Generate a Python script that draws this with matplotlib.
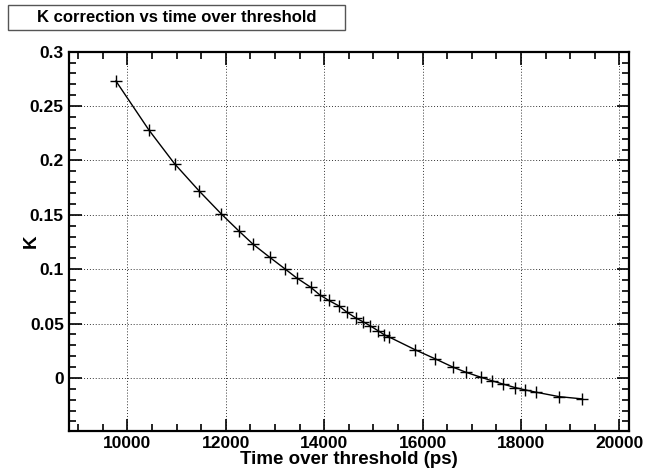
import numpy as np
import matplotlib.pyplot as plt
from matplotlib.ticker import MultipleLocator
from matplotlib.patches import Rectangle

plt.rcParams['font.family'] = ['Liberation Sans', 'DejaVu Sans']
plt.rcParams['font.weight'] = 'bold'

# time over threshold (ps) and K correction
tot = [9767, 10436, 10957, 11456, 11903, 12268, 12552, 12890, 13195, 13438,
       13722, 13905, 14093, 14296, 14458, 14649, 14783, 14933, 15087, 15223,
       15325, 15852, 16258, 16623, 16880, 17185, 17400, 17623, 17880, 18083,
       18312, 18773, 19246]
kcorr = [0.273, 0.228, 0.197, 0.172, 0.151, 0.135, 0.123, 0.111, 0.1005, 0.092,
         0.0835, 0.0765, 0.0712, 0.0663, 0.0605, 0.0549, 0.0518, 0.0479, 0.0436, 0.0396,
         0.0375, 0.0258, 0.0175, 0.0098, 0.0052, 0.0006, -0.0025, -0.0055, -0.0089, -0.011,
         -0.0132, -0.0172, -0.0193]

x = np.array(tot, dtype=float)
y = np.array(kcorr)

fig = plt.figure(figsize=(6.46, 4.72), dpi=100)
ax = fig.add_axes([0.1073, 0.0875, 0.8664, 0.803])

ax.plot(x, y, color='black', lw=1.0, marker='+', ms=8, mew=1.0)

# ROOT-like 10% margins around the data
dx = x.max() - x.min()
dy = y.max() - y.min()
ax.set_xlim(x.min() - 0.1 * dx, x.max() + 0.1 * dx)
ax.set_ylim(y.min() - 0.1 * dy, 0.3)

ax.xaxis.set_major_locator(MultipleLocator(2000))
ax.xaxis.set_minor_locator(MultipleLocator(500))
ax.yaxis.set_minor_locator(MultipleLocator(0.01))
ax.set_yticks([0, 0.05, 0.1, 0.15, 0.2, 0.25, 0.3])
ax.set_yticklabels(['0', '0.05', '0.1', '0.15', '0.2', '0.25', '0.3'])

ax.tick_params(which='both', direction='in', top=True, right=True,
               labelsize=12.5, width=1.2, pad=4)
ax.tick_params(which='major', length=9)
ax.tick_params(which='minor', length=5)
for s in ax.spines.values():
    s.set_linewidth(1.6)

ax.grid(True, which='major', ls=(0, (1, 2)), color='#333333', lw=0.7)

ax.set_xlabel('Time over threshold (ps)', fontsize=13.5, fontweight='bold', labelpad=0)
ax.set_ylabel('K', fontsize=13.5, fontweight='bold')
ax.yaxis.set_label_coords(-0.052, 0.5)

# title box, ROOT style
fig.add_artist(Rectangle((0.0124, 0.9364), 0.5217, 0.053, transform=fig.transFigure,
                         fc='white', ec='#555555', lw=1.0))
fig.text(0.2732, 0.963, 'K correction vs time over threshold', fontsize=12,
         fontweight='bold', ha='center', va='center')

fig.savefig('out.png', dpi=100)
